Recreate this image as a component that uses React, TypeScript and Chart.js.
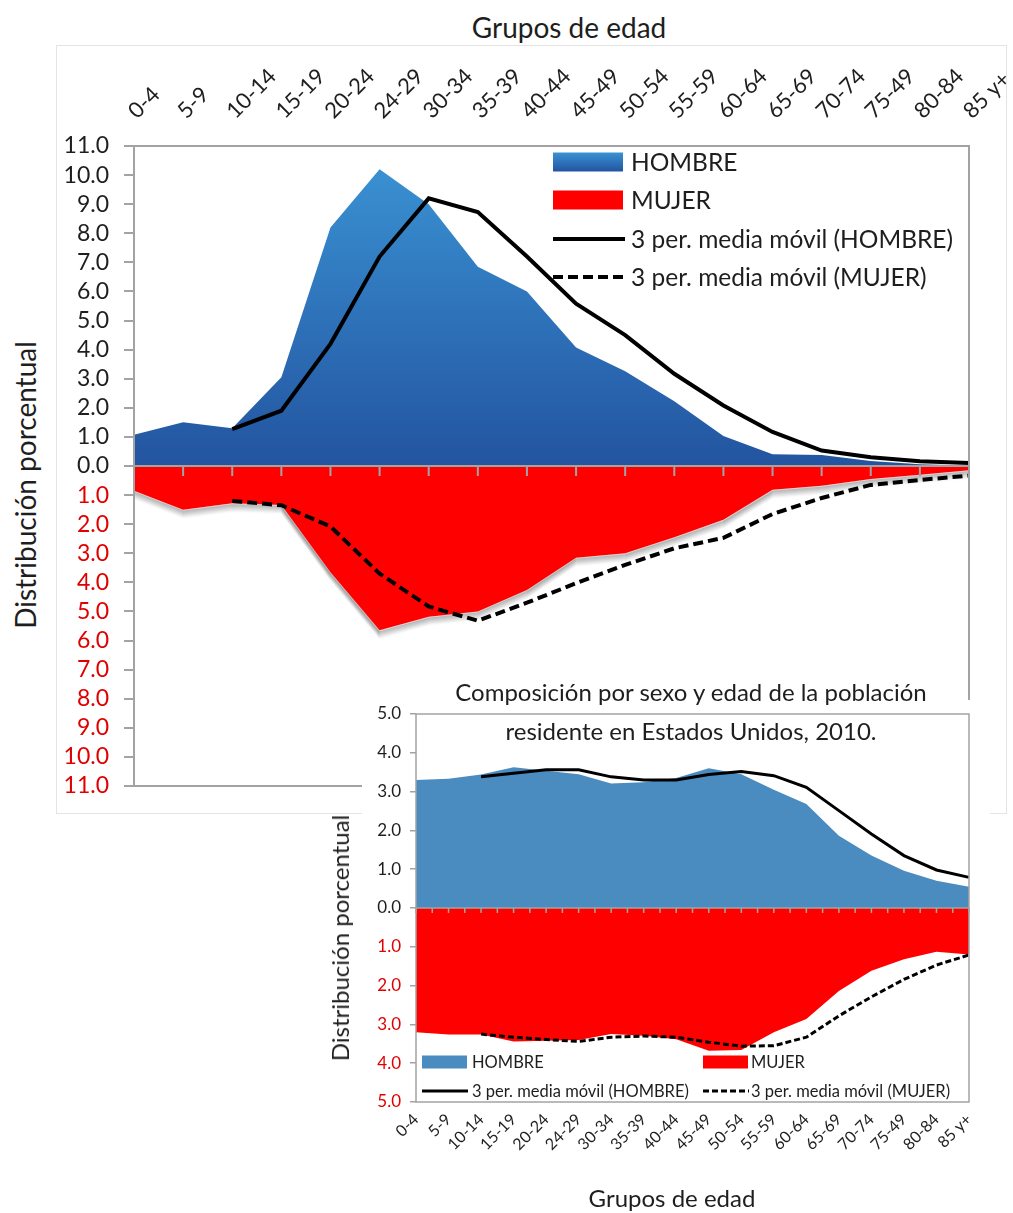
import React, { useEffect, useRef } from 'react';
import { Chart, registerables } from 'chart.js';

Chart.register(...registerables);

// ---------------- DATA ----------------
const ageGroups = ['0-4', '5-9', '10-14', '15-19', '20-24', '24-29', '30-34', '35-39', '40-44', '45-49', '50-54', '55-59', '60-64', '65-69', '70-74', '75-49', '80-84', '85 y+'];

// Upper chart (percent distribution)
const hombreSuperior = [1.07, 1.5, 1.3, 3.05, 8.2, 10.2, 9.0, 6.85, 6.0, 4.07, 3.26, 2.23, 1.03, 0.4, 0.38, 0.17, 0.06, 0.02];
const mujerSuperior = [0.85, 1.5, 1.28, 1.34, 3.65, 5.65, 5.18, 5.0, 4.26, 3.15, 3.0, 2.45, 1.85, 0.82, 0.68, 0.45, 0.3, 0.15];
const hombreSuperiorMM = [null, null, 1.27, 1.9, 4.2, 7.2, 9.2, 8.73, 7.2, 5.58, 4.5, 3.17, 2.08, 1.17, 0.53, 0.3, 0.16, 0.1];
const mujerSuperiorMM = [null, null, 1.2, 1.35, 2.08, 3.7, 4.83, 5.32, 4.7, 4.03, 3.4, 2.83, 2.47, 1.65, 1.1, 0.65, 0.48, 0.33];

// Inset chart: Estados Unidos 2010
const hombre2010 = [3.3, 3.33, 3.44, 3.63, 3.54, 3.45, 3.21, 3.24, 3.35, 3.6, 3.45, 3.05, 2.68, 1.86, 1.35, 0.96, 0.7, 0.55];
const mujer2010 = [3.2, 3.26, 3.26, 3.44, 3.42, 3.4, 3.25, 3.29, 3.38, 3.68, 3.66, 3.2, 2.86, 2.14, 1.62, 1.32, 1.13, 1.2];
const hombre2010MM = [null, null, 3.38, 3.47, 3.56, 3.56, 3.38, 3.3, 3.3, 3.44, 3.52, 3.41, 3.11, 2.51, 1.91, 1.35, 0.98, 0.79];
const mujer2010MM = [null, null, 3.25, 3.33, 3.39, 3.44, 3.33, 3.3, 3.33, 3.46, 3.56, 3.55, 3.33, 2.78, 2.29, 1.84, 1.47, 1.21];

const superiorAxisMax = 11;
const insetAxisMax = 5;

const seriesLabels = ['3 per. media móvil (HOMBRE)', '3 per. media móvil (MUJER)', 'MUJER', 'HOMBRE'];

// ---------------- STYLE ----------------
const FONT = "Lato, 'Open Sans', 'DejaVu Sans', sans-serif";
const TEXT = '#1e1e1e';
const RED_TEXT = '#e00000';
const AXIS_GRAY = '#a3a3a3';
const RED = '#ff0000';
const INSET_BLUE = '#4a8bc0';

const neg = (arr: (number | null)[]) => arr.map((v) => (v == null ? null : -v));

function topBlueGradient(ctx: CanvasRenderingContext2D, y1: number, y2: number) {
  const g = ctx.createLinearGradient(0, y1, 0, y2);
  g.addColorStop(0, '#3a92d3');
  g.addColorStop(1, '#2354a0');
  return g;
}

// ---------------- PLUGINS ----------------
function makeFramePlugin(cfg: { lineWidth: number; tickLen: number; minor: boolean }) {
  return {
    id: 'axisFrame',
    afterDatasetsDraw(chart: any) {
      const { ctx, chartArea: a } = chart;
      const xs = chart.scales.x;
      const ys = chart.scales.y;
      const y0 = ys.getPixelForValue(0);
      ctx.save();
      ctx.strokeStyle = AXIS_GRAY;
      ctx.lineWidth = cfg.lineWidth;
      ctx.beginPath();
      ctx.moveTo(a.left, y0);
      ctx.lineTo(a.right, y0);
      const n = xs.ticks.length;
      for (let i = 0; i < n; i++) {
        const x = xs.getPixelForTick(i);
        ctx.moveTo(x, y0);
        ctx.lineTo(x, y0 + cfg.tickLen);
        if (cfg.minor && i < n - 1) {
          const xm = (x + xs.getPixelForTick(i + 1)) / 2;
          ctx.moveTo(xm, y0);
          ctx.lineTo(xm, y0 + cfg.tickLen);
        }
      }
      ctx.stroke();
      ctx.strokeRect(a.left, a.top, a.width, a.height);
      ctx.restore();
    },
  };
}

type LegendItem = { ds: number; kind: 'box' | 'line'; x: number; y: number; w: number; h: number; textX: number; gradient?: boolean };

function makeLegendPlugin(cfg: { fontSize: number; items: LegendItem[] }) {
  return {
    id: 'customLegend',
    afterDraw(chart: any) {
      const ctx = chart.ctx as CanvasRenderingContext2D;
      ctx.save();
      ctx.font = `${cfg.fontSize}px ${FONT}`;
      ctx.textBaseline = 'middle';
      for (const it of cfg.items) {
        const ds = chart.data.datasets[it.ds];
        if (it.kind === 'box') {
          ctx.fillStyle = it.gradient ? topBlueGradient(ctx, it.y - it.h / 2, it.y + it.h / 2) : ds.legendColor;
          ctx.fillRect(it.x, it.y - it.h / 2, it.w, it.h);
        } else {
          ctx.strokeStyle = ds.borderColor;
          ctx.lineWidth = ds.borderWidth;
          ctx.setLineDash(ds.borderDash || []);
          ctx.beginPath();
          ctx.moveTo(it.x, it.y);
          ctx.lineTo(it.x + it.w, it.y);
          ctx.stroke();
          ctx.setLineDash([]);
        }
        ctx.fillStyle = TEXT;
        ctx.fillText(ds.label, it.textX, it.y + 1);
      }
      ctx.restore();
    },
  };
}

// Soft shadow below the red (MUJER) area of the upper chart: layered
// translucent strokes along the dataset's own element positions, drawn
// before the fills so the red area covers the upper half.
function makeShadowPlugin(target: number) {
  return {
    id: 'areaShadow',
    beforeDatasetsDraw(chart: any) {
      const { ctx, chartArea: a } = chart;
      const meta = chart.getDatasetMeta(target);
      const pts = meta.data;
      if (!pts || !pts.length) return;
      ctx.save();
      ctx.beginPath();
      ctx.rect(a.left, a.top, a.width, a.height);
      ctx.clip();
      ctx.lineJoin = 'round';
      ctx.lineCap = 'round';
      const layers = 8;
      for (let k = layers; k >= 1; k--) {
        const alpha = 0.16 * (1 - (k - 1) / layers);
        ctx.strokeStyle = `rgba(0,0,0,${alpha.toFixed(3)})`;
        ctx.lineWidth = 2;
        ctx.beginPath();
        pts.forEach((p: any, i: number) => {
          if (i === 0) ctx.moveTo(p.x, p.y + k);
          else ctx.lineTo(p.x, p.y + k);
        });
        ctx.stroke();
      }
      ctx.restore();
    },
  };
}

// ---------------- CONFIGS ----------------
function superiorConfig(): any {
  return {
    type: 'line',
    data: {
      labels: ageGroups,
      datasets: [
        { label: seriesLabels[0], data: hombreSuperiorMM, borderColor: '#000', borderWidth: 4, pointRadius: 0, fill: false, tension: 0 },
        { label: seriesLabels[1], data: neg(mujerSuperiorMM), borderColor: '#000', borderWidth: 4, borderDash: [10, 5], pointRadius: 0, fill: false, tension: 0 },
        { label: seriesLabels[2], data: neg(mujerSuperior), borderColor: 'rgba(0,0,0,0)', borderWidth: 0, backgroundColor: RED, legendColor: RED, fill: 'origin', pointRadius: 0 },
        {
          label: seriesLabels[3],
          data: hombreSuperior,
          borderColor: 'rgba(0,0,0,0)',
          borderWidth: 0,
          legendColor: '#2f75bf',
          backgroundColor: (c: any) => {
            const ch = c.chart;
            if (!ch.chartArea || !ch.scales.y) return '#2f75bf';
            const ys = ch.scales.y;
            return topBlueGradient(ch.ctx, ys.getPixelForValue(10.5), ys.getPixelForValue(0));
          },
          fill: 'origin',
          pointRadius: 0,
        },
      ],
    },
    options: {
      responsive: false,
      animation: false,
      devicePixelRatio: 1,
      layout: { padding: { left: 0, right: 44, top: 0, bottom: 44 } },
      plugins: { legend: { display: false }, tooltip: { enabled: false } },
      scales: {
        x: {
          type: 'category',
          position: 'top',
          offset: false,
          grid: { display: false, drawTicks: false },
          border: { display: false },
          ticks: { autoSkip: false, minRotation: 45, maxRotation: 45, padding: 22, labelOffset: 17, color: TEXT, font: { family: FONT, size: 22 } },
          afterFit: (s: any) => {
            s.height = 146;
            s.paddingLeft = 0;
            s.paddingRight = 0;
          },
        },
        y: {
          type: 'linear',
          min: -superiorAxisMax,
          max: superiorAxisMax,
          ticks: {
            stepSize: 1,
            autoSkip: false,
            maxTicksLimit: 40,
            padding: 15,
            callback: (v: any) => Math.abs(Number(v)).toFixed(1),
            color: (c: any) => (c.tick && c.tick.value < 0 ? RED_TEXT : TEXT),
            font: { family: FONT, size: 23 },
          },
          grid: { display: true, drawOnChartArea: false, drawTicks: true, tickLength: 10, color: AXIS_GRAY, lineWidth: 2 },
          border: { display: false },
          afterFit: (s: any) => {
            s.width = 134;
            s.paddingTop = 0;
            s.paddingBottom = 0;
          },
        },
      },
    },
    plugins: [
      makeShadowPlugin(2),
      makeFramePlugin({ lineWidth: 2, tickLen: 10, minor: false }),
      makeLegendPlugin({
        fontSize: 24.5,
        items: [
          { ds: 3, kind: 'box', x: 553, y: 162, w: 70, h: 19, textX: 631, gradient: true },
          { ds: 2, kind: 'box', x: 553, y: 200, w: 70, h: 19, textX: 631 },
          { ds: 0, kind: 'line', x: 553, y: 239, w: 72, h: 0, textX: 631 },
          { ds: 1, kind: 'line', x: 553, y: 277, w: 72, h: 0, textX: 631 },
        ],
      }),
    ],
  };
}

function insetConfig(): any {
  return {
    type: 'line',
    data: {
      labels: ageGroups,
      datasets: [
        { label: seriesLabels[0], data: hombre2010MM, borderColor: '#000', borderWidth: 3, pointRadius: 0, fill: false, tension: 0 },
        { label: seriesLabels[1], data: neg(mujer2010MM), borderColor: '#000', borderWidth: 3, borderDash: [6, 3], pointRadius: 0, fill: false, tension: 0 },
        { label: seriesLabels[2], data: neg(mujer2010), borderColor: 'rgba(0,0,0,0)', borderWidth: 0, backgroundColor: RED, legendColor: RED, fill: 'origin', pointRadius: 0 },
        { label: seriesLabels[3], data: hombre2010, borderColor: 'rgba(0,0,0,0)', borderWidth: 0, backgroundColor: INSET_BLUE, legendColor: INSET_BLUE, fill: 'origin', pointRadius: 0 },
      ],
    },
    options: {
      responsive: false,
      animation: false,
      devicePixelRatio: 1,
      layout: { padding: { left: 0, right: 21, top: 14, bottom: 0 } },
      plugins: { legend: { display: false }, tooltip: { enabled: false } },
      scales: {
        x: {
          type: 'category',
          position: 'bottom',
          offset: false,
          grid: { display: false, drawTicks: false },
          border: { display: false },
          ticks: { autoSkip: false, minRotation: 45, maxRotation: 45, padding: 8, color: TEXT, font: { family: FONT, size: 16 } },
          afterFit: (s: any) => {
            s.height = 111;
            s.paddingLeft = 0;
            s.paddingRight = 0;
          },
        },
        y: {
          type: 'linear',
          min: -insetAxisMax,
          max: insetAxisMax,
          ticks: {
            stepSize: 1,
            autoSkip: false,
            padding: 9,
            callback: (v: any) => Math.abs(Number(v)).toFixed(1),
            color: (c: any) => (c.tick && c.tick.value < 0 ? RED_TEXT : TEXT),
            font: { family: FONT, size: 17 },
          },
          grid: { display: true, drawOnChartArea: false, drawTicks: true, tickLength: 6, color: AXIS_GRAY, lineWidth: 1.5 },
          border: { display: false },
          afterFit: (s: any) => {
            s.width = 54;
            s.paddingTop = 0;
            s.paddingBottom = 0;
          },
        },
      },
    },
    plugins: [
      makeFramePlugin({ lineWidth: 1.5, tickLen: 5, minor: true }),
      makeLegendPlugin({
        fontSize: 16.5,
        items: [
          { ds: 3, kind: 'box', x: 60, y: 362, w: 45, h: 13, textX: 110 },
          { ds: 2, kind: 'box', x: 341, y: 362, w: 45, h: 13, textX: 389 },
          { ds: 0, kind: 'line', x: 60, y: 391, w: 46, h: 0, textX: 110 },
          { ds: 1, kind: 'line', x: 341, y: 391, w: 46, h: 0, textX: 389 },
        ],
      }),
    ],
  };
}

// ---------------- COMPONENTS ----------------
function ChartCanvas({ makeConfig, width, height, style }: { makeConfig: () => any; width: number; height: number; style: React.CSSProperties }) {
  const ref = useRef<HTMLCanvasElement>(null);
  useEffect(() => {
    if (!ref.current) return;
    const chart = new Chart(ref.current, makeConfig());
    return () => chart.destroy();
  }, []);
  return <canvas ref={ref} width={width} height={height} style={{ position: 'absolute', width, height, ...style }} />;
}

function Label({ x, y, size, text, rotate }: { x: number; y: number; size: number; text: string; rotate?: boolean }) {
  return (
    <div
      style={{
        position: 'absolute',
        left: x,
        top: y,
        transform: `translate(-50%, -50%)${rotate ? ' rotate(-90deg)' : ''}`,
        whiteSpace: 'nowrap',
        fontFamily: FONT,
        fontSize: size,
        color: TEXT,
        lineHeight: 1,
      }}
    >
      {text}
    </div>
  );
}

export default function App() {
  return (
    <div style={{ position: 'absolute', left: 0, top: 0, width: 1013, height: 1213, overflow: 'hidden', background: '#fff' }}>
      {/* upper chart frame */}
      <div style={{ position: 'absolute', left: 56, top: 45, width: 951, height: 769, border: '1px solid #e4e4e4', boxSizing: 'border-box' }} />
      <Label x={569} y={27} size={28} text="Grupos de edad" />
      <Label x={25} y={485} size={28} text="Distribución porcentual" rotate />
      <ChartCanvas makeConfig={superiorConfig} width={1013} height={830} style={{ left: 0, top: 0 }} />

      {/* inset chart */}
      <div style={{ position: 'absolute', left: 362, top: 700, width: 628, height: 513, background: '#fff' }}>
        <ChartCanvas makeConfig={insetConfig} width={628} height={513} style={{ left: 0, top: 0 }} />
      </div>
      <Label x={691} y={692} size={24} text="Composición por sexo y edad de la población" />
      <Label x={691} y={731} size={24} text="residente en Estados Unidos, 2010." />
      <Label x={340} y={938} size={24} text="Distribución porcentual" rotate />
      <Label x={672} y={1198} size={24} text="Grupos de edad" />
    </div>
  );
}
